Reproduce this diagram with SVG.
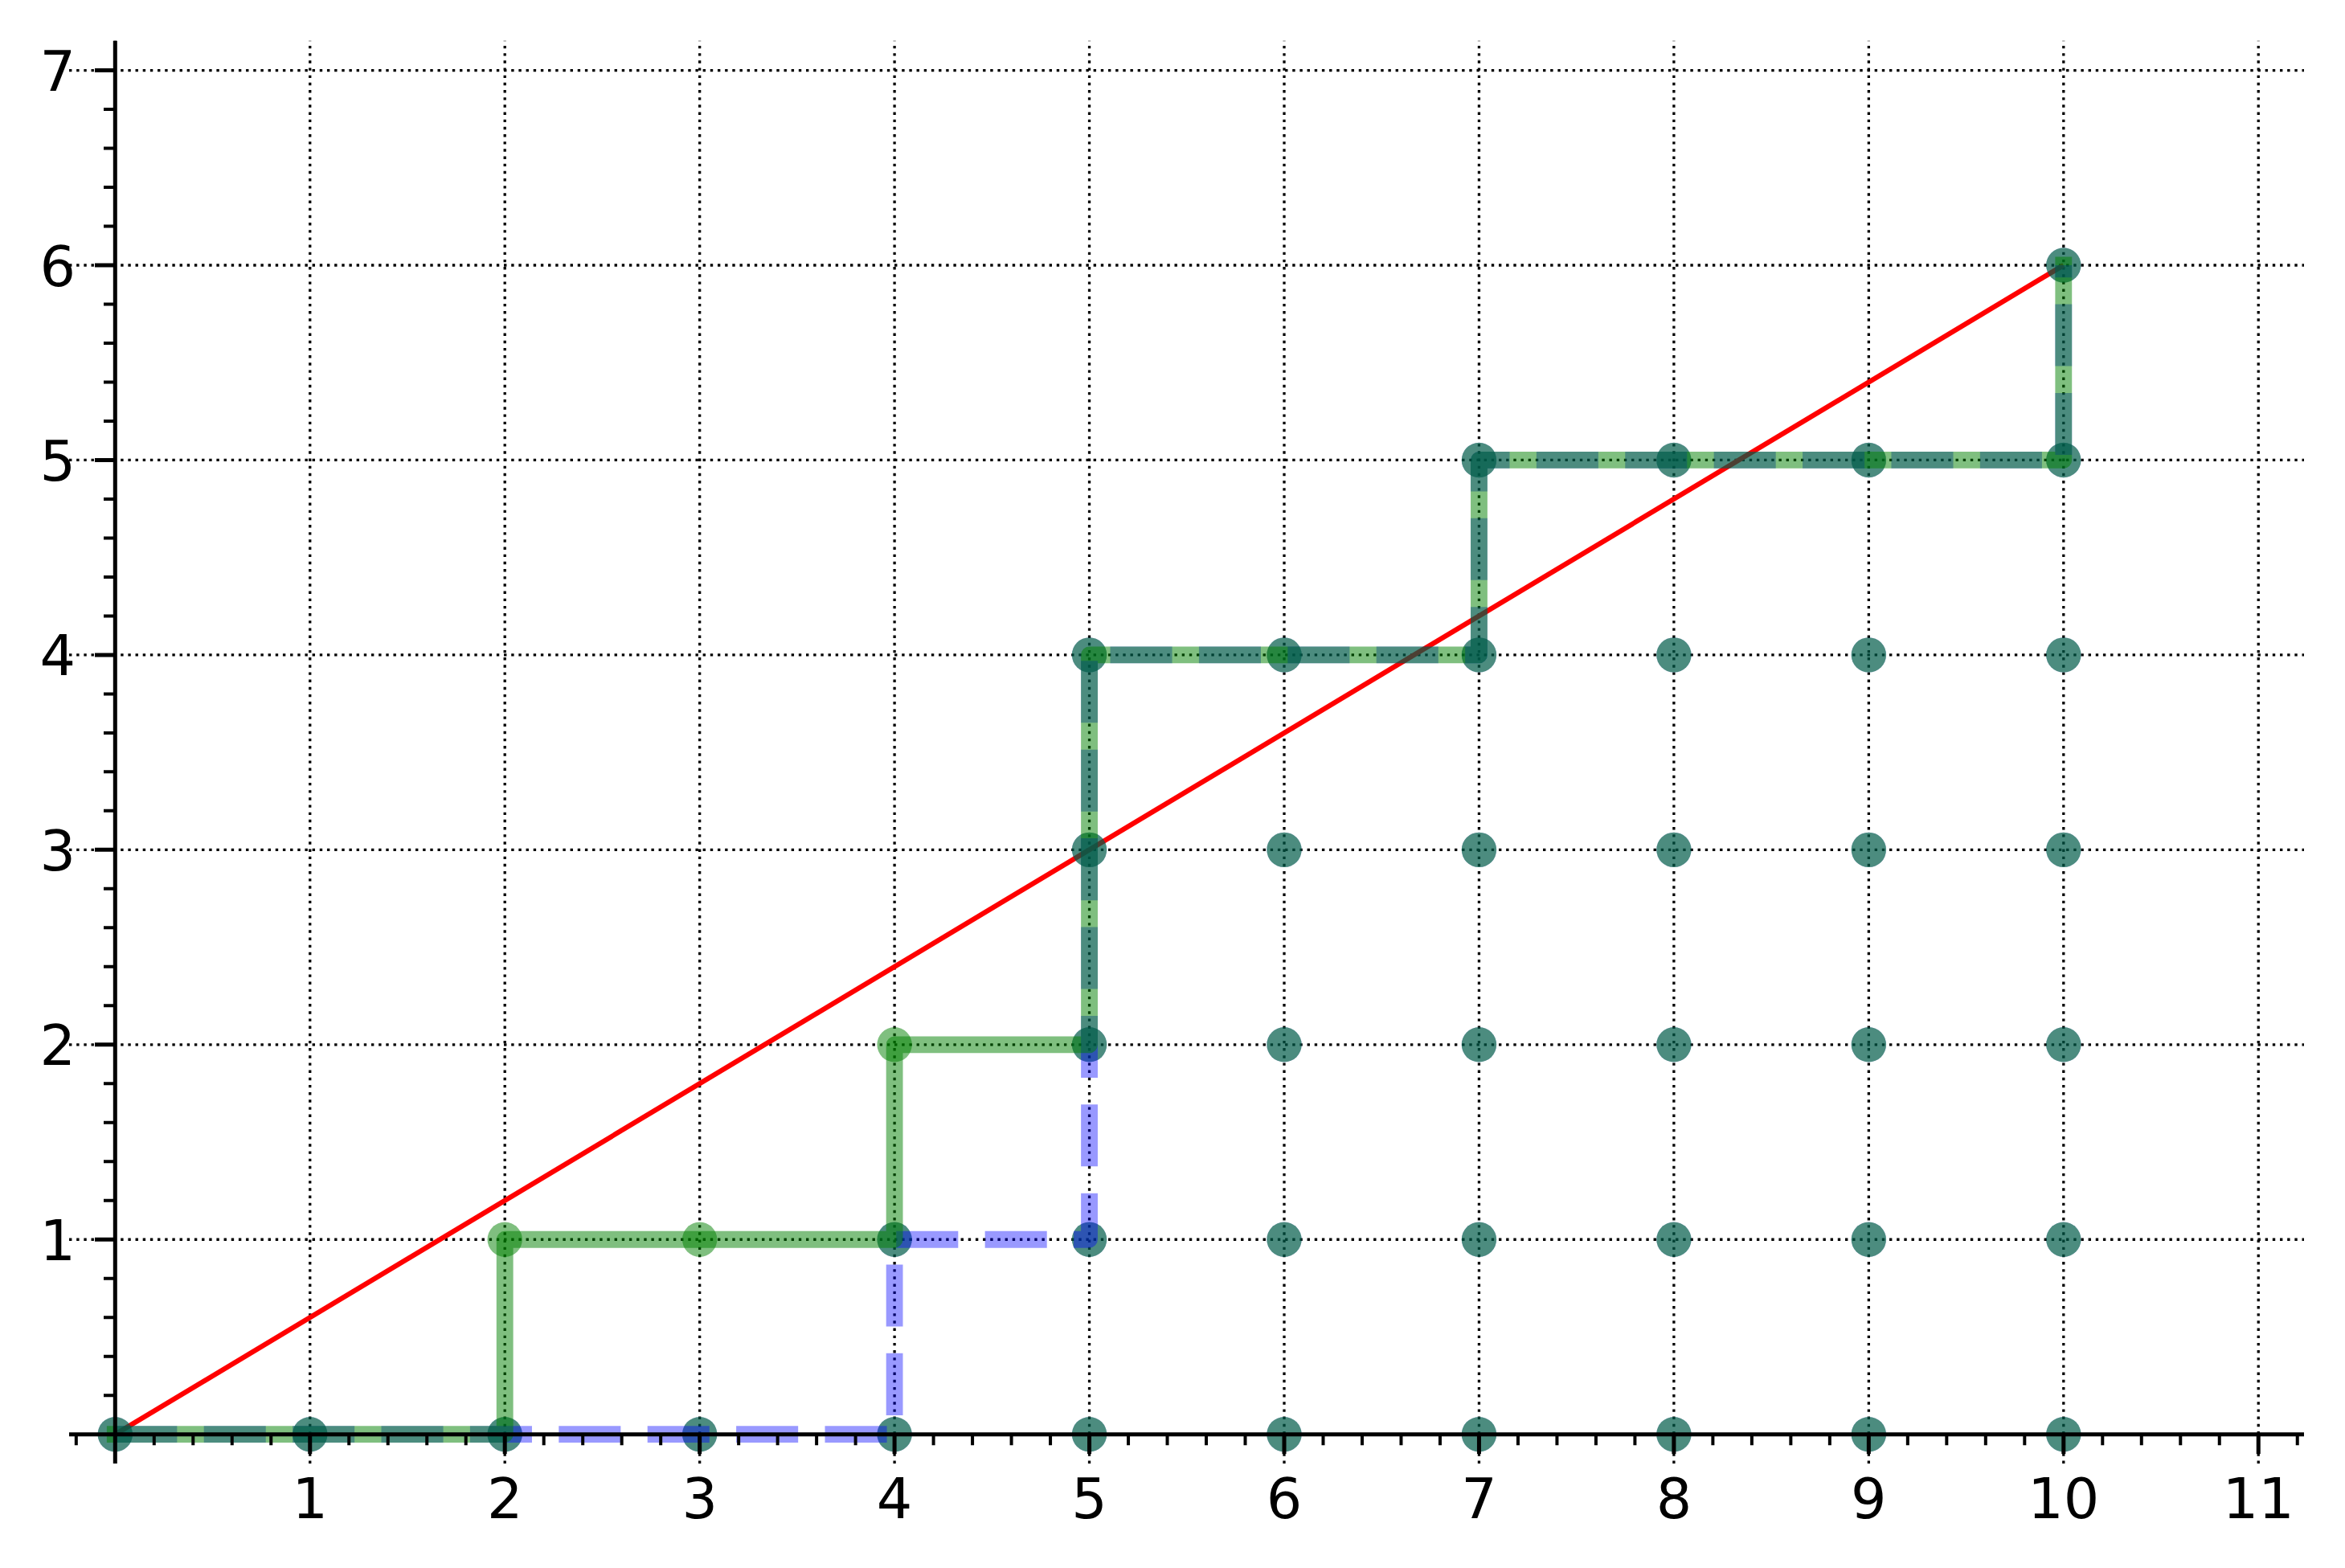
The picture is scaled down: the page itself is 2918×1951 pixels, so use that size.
<svg xmlns="http://www.w3.org/2000/svg" width="2918" height="1951" viewBox="0 0 2918 1951">
<style>
.grid{fill:none;stroke:#000;stroke-width:3.3;stroke-dasharray:3.4 5.77}
.red{fill:none;stroke:#ff0000;stroke-width:6.25}
.blue{fill:none;stroke:#0000ff;stroke-opacity:0.4;stroke-width:20.83;stroke-dasharray:77.07 33.33;stroke-linejoin:round;stroke-linecap:butt}
.green{fill:none;stroke:#008000;stroke-opacity:0.5;stroke-width:20.83;stroke-linejoin:round;stroke-linecap:square}
.gdot{fill:#008000;fill-opacity:0.5}
.axis{fill:none;stroke:#000;stroke-width:5}
.major{fill:none;stroke:#000;stroke-width:5}
.minor{fill:none;stroke:#000;stroke-width:4}
text{font-family:"DejaVu Sans",sans-serif;font-size:70px;fill:#000}
.xl{text-anchor:middle}
.yl{text-anchor:end}
</style>
<defs>
<g id="td"><circle r="21.7" fill="#0000ff" fill-opacity="0.4"/><circle r="21.7" fill="#008000" fill-opacity="0.5"/></g>
</defs>
<rect width="2918" height="1951" fill="#fff"/>
<g id="grid">
<path class="grid" d="M143.3,1821V50.7 M385.75,1821V50.7 M628.2,1821V50.7 M870.65,1821V50.7 M1113.1,1821V50.7 M1355.55,1821V50.7 M1598,1821V50.7 M1840.45,1821V50.7 M2082.9,1821V50.7 M2325.35,1821V50.7 M2567.8,1821V50.7 M2810.25,1821V50.7"/>
<path class="grid" d="M86,1784.7H2867 M86,1542.25H2867 M86,1299.8H2867 M86,1057.35H2867 M86,814.9H2867 M86,572.45H2867 M86,330H2867 M86,87.55H2867"/>
</g>
<g id="connectors">
<path id="diagonal" class="red" d="M143.3,1784.7L2567.8,330"/>
<g id="region-points">
<use href="#td" x="143.3" y="1784.7"/><use href="#td" x="385.75" y="1784.7"/><use href="#td" x="628.2" y="1784.7"/><use href="#td" x="870.65" y="1784.7"/><use href="#td" x="1113.1" y="1784.7"/><use href="#td" x="1355.55" y="1784.7"/><use href="#td" x="1598" y="1784.7"/><use href="#td" x="1840.45" y="1784.7"/><use href="#td" x="2082.9" y="1784.7"/><use href="#td" x="2325.35" y="1784.7"/><use href="#td" x="2567.8" y="1784.7"/>
<use href="#td" x="1113.1" y="1542.25"/><use href="#td" x="1355.55" y="1542.25"/><use href="#td" x="1598" y="1542.25"/><use href="#td" x="1840.45" y="1542.25"/><use href="#td" x="2082.9" y="1542.25"/><use href="#td" x="2325.35" y="1542.25"/><use href="#td" x="2567.8" y="1542.25"/>
<use href="#td" x="1355.55" y="1299.8"/><use href="#td" x="1598" y="1299.8"/><use href="#td" x="1840.45" y="1299.8"/><use href="#td" x="2082.9" y="1299.8"/><use href="#td" x="2325.35" y="1299.8"/><use href="#td" x="2567.8" y="1299.8"/>
<use href="#td" x="1355.55" y="1057.35"/><use href="#td" x="1598" y="1057.35"/><use href="#td" x="1840.45" y="1057.35"/><use href="#td" x="2082.9" y="1057.35"/><use href="#td" x="2325.35" y="1057.35"/><use href="#td" x="2567.8" y="1057.35"/>
<use href="#td" x="1355.55" y="814.9"/><use href="#td" x="1598" y="814.9"/><use href="#td" x="1840.45" y="814.9"/><use href="#td" x="2082.9" y="814.9"/><use href="#td" x="2325.35" y="814.9"/><use href="#td" x="2567.8" y="814.9"/>
<use href="#td" x="1840.45" y="572.45"/><use href="#td" x="2082.9" y="572.45"/><use href="#td" x="2325.35" y="572.45"/><use href="#td" x="2567.8" y="572.45"/>
<use href="#td" x="2567.8" y="330"/>
</g>
<path id="blue-path" class="blue" d="M143.3,1784.7H1113.1V1542.25H1355.55V814.9H1840.45V572.45H2567.8V330"/>
<path id="green-path" class="green" d="M143.3,1784.7H628.2V1542.25H1113.1V1299.8H1355.55V814.9H1840.45V572.45H2567.8V330"/>
<g id="green-points">
<circle class="gdot" cx="628.2" cy="1542.25" r="21.7"/>
<circle class="gdot" cx="870.65" cy="1542.25" r="21.7"/>
<circle class="gdot" cx="1113.1" cy="1299.8" r="21.7"/>
</g>
</g>
<g id="axes">
<path class="axis" d="M86,1784.7H2867 M143.3,1821V50.7"/>
<path class="major" d="M385.75,1784.7V1809 M628.2,1784.7V1809 M870.65,1784.7V1809 M1113.1,1784.7V1809 M1355.55,1784.7V1809 M1598,1784.7V1809 M1840.45,1784.7V1809 M2082.9,1784.7V1809 M2325.35,1784.7V1809 M2567.8,1784.7V1809 M2810.25,1784.7V1809"/>
<path class="major" d="M118,1542.25H143.3 M118,1299.8H143.3 M118,1057.35H143.3 M118,814.9H143.3 M118,572.45H143.3 M118,330H143.3 M118,87.55H143.3"/>
<path class="minor" d="M94.81,1784.7V1798.3 M191.79,1784.7V1798.3 M240.28,1784.7V1798.3 M288.77,1784.7V1798.3 M337.26,1784.7V1798.3 M434.24,1784.7V1798.3 M482.73,1784.7V1798.3 M531.22,1784.7V1798.3 M579.71,1784.7V1798.3 M676.69,1784.7V1798.3 M725.18,1784.7V1798.3 M773.67,1784.7V1798.3 M822.16,1784.7V1798.3 M919.14,1784.7V1798.3 M967.63,1784.7V1798.3 M1016.12,1784.7V1798.3 M1064.61,1784.7V1798.3 M1161.59,1784.7V1798.3 M1210.08,1784.7V1798.3 M1258.57,1784.7V1798.3 M1307.06,1784.7V1798.3 M1404.04,1784.7V1798.3 M1452.53,1784.7V1798.3 M1501.02,1784.7V1798.3 M1549.51,1784.7V1798.3 M1646.49,1784.7V1798.3 M1694.98,1784.7V1798.3 M1743.47,1784.7V1798.3 M1791.96,1784.7V1798.3 M1888.94,1784.7V1798.3 M1937.43,1784.7V1798.3 M1985.92,1784.7V1798.3 M2034.41,1784.7V1798.3 M2131.39,1784.7V1798.3 M2179.88,1784.7V1798.3 M2228.37,1784.7V1798.3 M2276.86,1784.7V1798.3 M2373.84,1784.7V1798.3 M2422.33,1784.7V1798.3 M2470.82,1784.7V1798.3 M2519.31,1784.7V1798.3 M2616.29,1784.7V1798.3 M2664.78,1784.7V1798.3 M2713.27,1784.7V1798.3 M2761.76,1784.7V1798.3 M2858.74,1784.7V1798.3"/>
<path class="minor" d="M129,1736.21H143.3 M129,1687.72H143.3 M129,1639.23H143.3 M129,1590.74H143.3 M129,1493.76H143.3 M129,1445.27H143.3 M129,1396.78H143.3 M129,1348.29H143.3 M129,1251.31H143.3 M129,1202.82H143.3 M129,1154.33H143.3 M129,1105.84H143.3 M129,1008.86H143.3 M129,960.37H143.3 M129,911.88H143.3 M129,863.39H143.3 M129,766.41H143.3 M129,717.92H143.3 M129,669.43H143.3 M129,620.94H143.3 M129,523.96H143.3 M129,475.47H143.3 M129,426.98H143.3 M129,378.49H143.3 M129,281.51H143.3 M129,233.02H143.3 M129,184.53H143.3 M129,136.04H143.3"/>
</g>
<g id="labels">
<text class="xl" x="385.75" y="1889">1</text>
<text class="xl" x="628.2" y="1889">2</text>
<text class="xl" x="870.65" y="1889">3</text>
<text class="xl" x="1113.1" y="1889">4</text>
<text class="xl" x="1355.55" y="1889">5</text>
<text class="xl" x="1598" y="1889">6</text>
<text class="xl" x="1840.45" y="1889">7</text>
<text class="xl" x="2082.9" y="1889">8</text>
<text class="xl" x="2325.35" y="1889">9</text>
<text class="xl" x="2567.8" y="1889">10</text>
<text class="xl" x="2810.25" y="1889">11</text>
<text class="yl" x="94" y="1567.75">1</text>
<text class="yl" x="94" y="1325.3">2</text>
<text class="yl" x="94" y="1082.85">3</text>
<text class="yl" x="94" y="840.4">4</text>
<text class="yl" x="94" y="597.95">5</text>
<text class="yl" x="94" y="355.5">6</text>
<text class="yl" x="94" y="113.05">7</text>
</g>
</svg>
